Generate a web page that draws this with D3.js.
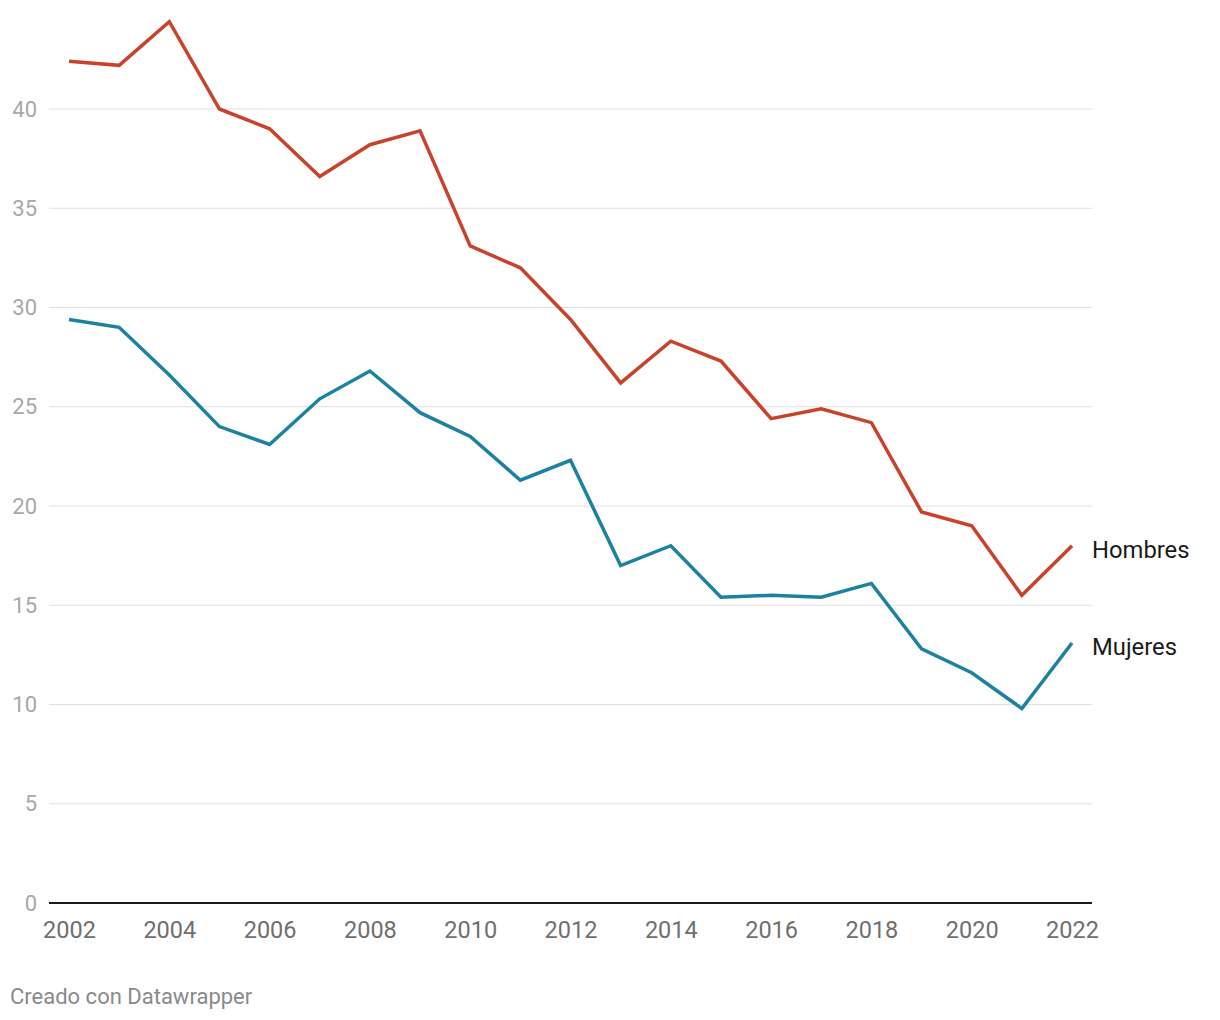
<!DOCTYPE html>
<html>
<head>
<meta charset="utf-8">
<script src="https://cdn.jsdelivr.net/npm/d3@7"></script>
<style>
  body { margin: 0; background: #fff; font-family: Roboto, sans-serif; }
  svg { display: block; }
</style>
</head>
<body>
<svg id="chart" width="1220" height="1020"></svg>
<script>
const years = [2002, 2003, 2004, 2005, 2006, 2007, 2008, 2009, 2010, 2011, 2012,
               2013, 2014, 2015, 2016, 2017, 2018, 2019, 2020, 2021, 2022];
const hombres = [42.4, 42.2, 44.4, 40.0, 39.0, 36.6, 38.2, 38.9, 33.1, 32.0, 29.4,
                 26.2, 28.3, 27.3, 24.4, 24.9, 24.2, 19.7, 19.0, 15.5, 18.0];
const mujeres = [29.4, 29.0, 26.6, 24.0, 23.1, 25.4, 26.8, 24.7, 23.5, 21.3, 22.3,
                 17.0, 18.0, 15.4, 15.5, 15.4, 16.1, 12.8, 11.6, 9.8, 13.1];
const yTicks = [0, 5, 10, 15, 20, 25, 30, 35, 40];
const xTicks = [2002, 2004, 2006, 2008, 2010, 2012, 2014, 2016, 2018, 2020, 2022];

const series = [
  {name: 'Hombres', values: hombres, color: '#c8432b'},
  {name: 'Mujeres', values: mujeres, color: '#1d81a2'}
];

const svg = d3.select('#chart');
const gridLeft = 49, gridRight = 1092;

const x = d3.scaleLinear().domain([2002, 2022]).range([69, 1072]);
const y = d3.scaleLinear().domain([0, 40]).range([903, 109]);

// gridlines
svg.append('g')
  .selectAll('line')
  .data(yTicks.filter(d => d > 0))
  .join('line')
  .attr('x1', gridLeft).attr('x2', gridRight)
  .attr('y1', d => y(d)).attr('y2', d => y(d))
  .attr('stroke', '#e0e0e0')
  .attr('stroke-width', 1);

// y labels
svg.append('g')
  .selectAll('text')
  .data(yTicks)
  .join('text')
  .attr('x', 37)
  .attr('y', d => y(d))
  .attr('dy', '0.35em')
  .attr('text-anchor', 'end')
  .attr('fill', '#a8a8a8')
  .attr('font-size', 22)
  .text(d => d);

// baseline
svg.append('line')
  .attr('x1', gridLeft).attr('x2', gridRight)
  .attr('y1', y(0)).attr('y2', y(0))
  .attr('stroke', '#1a1a1a')
  .attr('stroke-width', 2);

// x axis labels
const xAxis = d3.axisBottom(x)
  .tickValues(xTicks)
  .tickFormat(d3.format('d'))
  .tickSize(0)
  .tickPadding(18);

const gx = svg.append('g')
  .attr('transform', `translate(0, ${y(0)})`)
  .call(xAxis);
gx.select('.domain').remove();
gx.selectAll('text')
  .attr('font-family', 'Roboto, sans-serif')
  .attr('font-size', 23.5)
  .attr('fill', '#6f6f6f');

const line = d3.line()
  .x((d, i) => x(years[i]))
  .y(d => y(d));

series.forEach(s => {
  svg.append('path')
    .datum(s.values)
    .attr('fill', 'none')
    .attr('stroke', s.color)
    .attr('stroke-width', 3.5)
    .attr('stroke-linejoin', 'miter')
    .attr('stroke-linecap', 'butt')
    .attr('d', line);

  const last = s.values[s.values.length - 1];
  svg.append('text')
    .attr('x', x(years[years.length - 1]) + 20)
    .attr('y', y(last) + 4)
    .attr('dy', '0.35em')
    .attr('fill', '#1a1a1a')
    .attr('font-size', 23.8)
    .text(s.name);
});

// footer
svg.append('text')
  .attr('x', 10)
  .attr('y', 1004)
  .attr('fill', '#8a8a8a')
  .attr('font-size', 22)
  .text('Creado con Datawrapper');
</script>
</body>
</html>
